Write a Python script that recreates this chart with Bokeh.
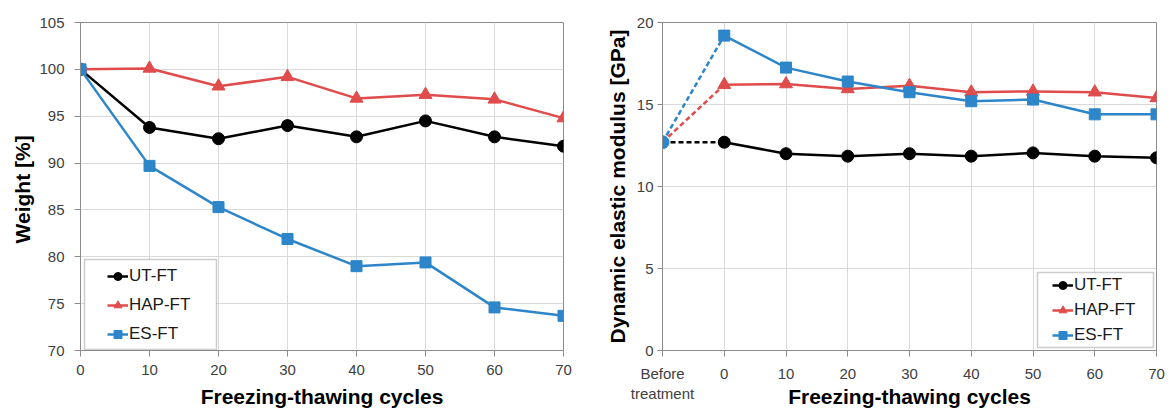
from bokeh.plotting import figure
from bokeh.layouts import row
from bokeh.models import Range1d, FixedTicker, Legend, BoxAnnotation
from bokeh.embed import file_html
from bokeh.resources import INLINE

# ---------------- data ----------------
cycles = [0, 10, 20, 30, 40, 50, 60, 70]

weight_ut = [100.0, 93.8, 92.6, 94.0, 92.8, 94.5, 92.8, 91.8]
weight_hap = [100.0, 100.1, 98.2, 99.2, 96.9, 97.3, 96.8, 94.8]
weight_es = [100.0, 89.7, 85.3, 81.9, 79.0, 79.4, 74.6, 73.7]

before_label = "Before\ntreatment"
modulus_before_ut = 12.7
modulus_before_hap = 12.7
modulus_before_es = 12.7
modulus_ut = [12.7, 12.0, 11.85, 12.0, 11.85, 12.05, 11.85, 11.75]
modulus_hap = [16.2, 16.25, 15.95, 16.15, 15.75, 15.8, 15.75, 15.4]
modulus_es = [19.2, 17.25, 16.4, 15.75, 15.2, 15.3, 14.4, 14.4]

series_names = ["UT-FT", "HAP-FT", "ES-FT"]

# ---------------- style ----------------
FONT = "Liberation Sans"
BLACK = "#000000"
RED = "#E04B4B"
BLUE = "#2C86C9"
GRID = "#d9d9d9"
FRAME = "#8c8c8c"
TICKC = "#404040"

BEFORE_POS = -10


def style(p, ytick_out, ylabel_standoff, ytitle_standoff, xtitle_standoff):
    p.outline_line_color = FRAME
    p.outline_line_width = 1
    for ax in (p.xaxis[0], p.yaxis[0]):
        ax.axis_line_color = FRAME
        ax.major_tick_line_color = FRAME
        ax.minor_tick_line_color = None
        ax.major_tick_in = 0
        ax.major_label_text_font = FONT
        ax.major_label_text_font_size = "15px"
        ax.major_label_text_color = TICKC
        ax.axis_label_text_font = FONT
        ax.axis_label_text_font_size = "21px"
        ax.axis_label_text_font_style = "bold"
        ax.axis_label_text_color = BLACK
    p.yaxis[0].major_tick_out = ytick_out
    p.yaxis[0].major_label_standoff = ylabel_standoff
    p.yaxis[0].axis_label_standoff = ytitle_standoff
    p.xaxis[0].major_tick_out = 6
    p.xaxis[0].major_label_standoff = 8
    p.xaxis[0].axis_label_standoff = xtitle_standoff
    p.xgrid.grid_line_color = GRID
    p.ygrid.grid_line_color = GRID
    p.xgrid.grid_line_width = 1
    p.ygrid.grid_line_width = 1


def make_legend(items, loc, spacing):
    lg = Legend(items=items, location=loc, padding=0, spacing=spacing)
    lg.label_text_font = FONT
    lg.label_text_font_size = "17px"
    lg.label_text_color = "#1a1a1a"
    lg.border_line_color = None
    lg.background_fill_alpha = 0
    lg.label_standoff = 1
    lg.glyph_width = 21
    lg.glyph_height = 20
    lg.label_height = 20
    lg.margin = 0
    return lg


def legend_box(l, r, b, t):
    return BoxAnnotation(left=l, right=r, bottom=b, top=t,
                         left_units="screen", right_units="screen",
                         bottom_units="screen", top_units="screen",
                         fill_color="white", fill_alpha=1,
                         line_color="#595959", line_width=1.5)


# ---------------- left chart ----------------
p1 = figure(width=590, height=410, output_backend="svg", toolbar_location=None,
            x_range=Range1d(0, 70), y_range=Range1d(70, 105),
            min_border_left=80, min_border_right=27, min_border_top=22,
            min_border_bottom=59)
p1.xaxis.ticker = FixedTicker(ticks=cycles)
p1.yaxis.ticker = FixedTicker(ticks=[70, 75, 80, 85, 90, 95, 100, 105])
p1.xaxis.axis_label = "Freezing-thawing cycles"
p1.yaxis.axis_label = "Weight  [%]"
style(p1, 6, 10, 2, 7)

items1 = []
for name, vals, col, mk, sz in [
    (series_names[0], weight_ut, BLACK, "circle", 12),
    (series_names[1], weight_hap, RED, "triangle", 13),
    (series_names[2], weight_es, BLUE, "square", 11),
]:
    l = p1.line(cycles, vals, line_color=col, line_width=2.5)
    s = p1.scatter(cycles, vals, marker=mk, size=sz, fill_color=col, line_color=col)
    items1.append((name, [l, s]))

p1.add_layout(legend_box(4, 136, 1, 91))
p1.add_layout(make_legend(items1, (27, 6), 9), "center")

# ---------------- right chart ----------------
p2 = figure(width=579, height=410, output_backend="svg", toolbar_location=None,
            x_range=Range1d(BEFORE_POS, 70), y_range=Range1d(0, 20),
            min_border_left=72, min_border_right=13, min_border_top=22,
            min_border_bottom=59)
p2.xaxis.ticker = FixedTicker(ticks=[BEFORE_POS] + cycles)
p2.xaxis.major_label_overrides = {BEFORE_POS: before_label}
p2.yaxis.ticker = FixedTicker(ticks=[0, 5, 10, 15, 20])
p2.xaxis.axis_label = "Freezing-thawing cycles"
p2.yaxis.axis_label = "Dynamic elastic modulus [GPa]"
# negative title standoff: the title shares the row of the second label line
style(p2, 5, 4, 5, -20)

items2 = []
for name, before, vals, col, mk, sz in [
    (series_names[0], modulus_before_ut, modulus_ut, BLACK, "circle", 12),
    (series_names[1], modulus_before_hap, modulus_hap, RED, "triangle", 13),
    (series_names[2], modulus_before_es, modulus_es, BLUE, "square", 11),
]:
    p2.line([BEFORE_POS, cycles[0]], [before, vals[0]], line_color=col,
            line_width=2.5, line_dash="5 3")
    l = p2.line(cycles, vals, line_color=col, line_width=2.5)
    s = p2.scatter(cycles, vals, marker=mk, size=sz, fill_color=col, line_color=col)
    items2.append((name, [l, s]))

# the shared "before treatment" point (drawn on top in blue)
p2.scatter([BEFORE_POS], [modulus_before_es], marker="circle", size=13,
           fill_color=BLUE, line_color=BLUE)

p2.add_layout(legend_box(375, 491, 3, 78))
p2.add_layout(make_legend(items2, (390, 5), 5), "center")

layout = row(p1, p2)
open("out.html", "w").write(file_html(layout, INLINE))
